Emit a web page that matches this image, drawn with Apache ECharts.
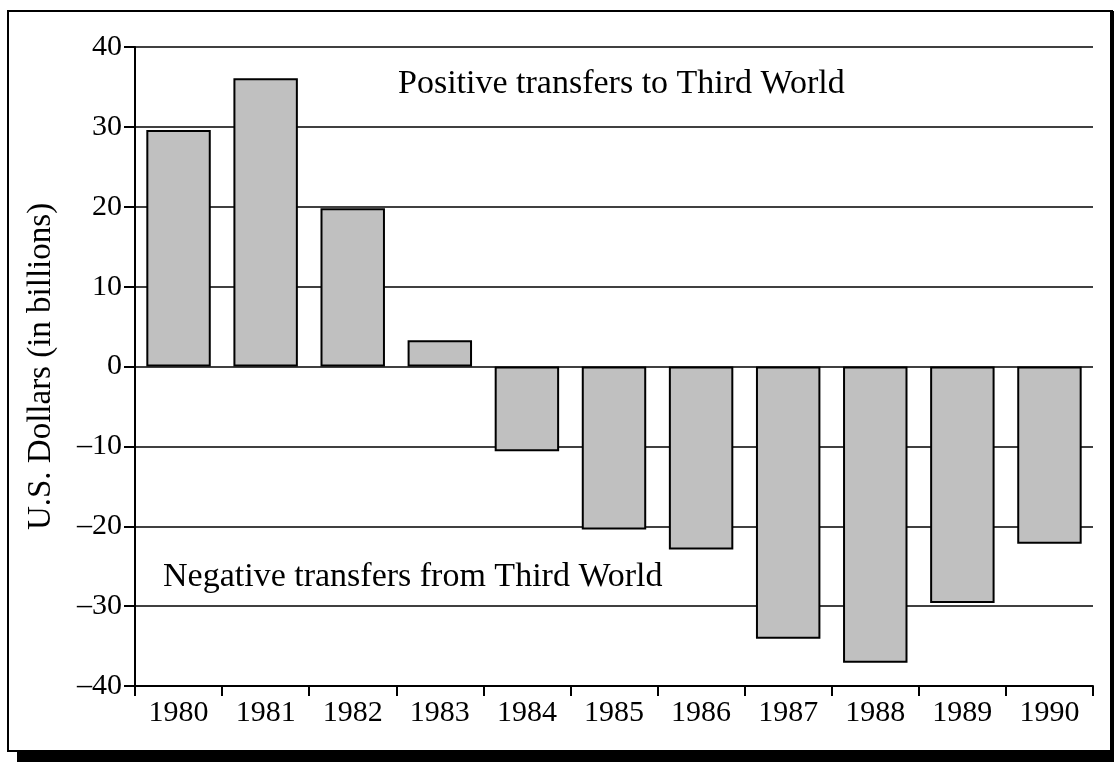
<!DOCTYPE html>
<html>
<head>
<meta charset="utf-8">
<script src="https://cdn.jsdelivr.net/npm/echarts@6/dist/echarts.min.js"></script>
<style>
html, body { margin: 0; padding: 0; background: #fff; }
#container { width: 1118px; height: 769px; }
</style>
</head>
<body>
<div id="container"></div>
<script>
var years = ['1980', '1981', '1982', '1983', '1984', '1985', '1986', '1987', '1988', '1989', '1990'];
var transfers = [29.6, 36.1, 19.8, 3.3, -10.6, -20.4, -22.9, -34.1, -37.1, -29.6, -22.2];
var yMin = -40, yMax = 40, yStep = 10;
var notes = ['Positive transfers to Third World', 'Negative transfers from Third World'];

var serif = '"Liberation Serif", "DejaVu Serif", serif';

var dom = document.getElementById('container');
var myChart = echarts.init(dom);
var option = {
    animation: false,
    backgroundColor: '#fff',
    grid: { left: 135, right: 25, top: 47, bottom: 83 },
    xAxis: {
        type: 'category',
        data: years,
        position: 'bottom',
        axisLine: { onZero: false, lineStyle: { color: '#000', width: 2 } },
        axisTick: { show: true, length: 10, lineStyle: { color: '#000', width: 2 } },
        axisLabel: { color: '#000', fontFamily: serif, fontSize: 30, margin: 12 },
        splitLine: { show: false }
    },
    yAxis: {
        type: 'value',
        min: yMin,
        max: yMax,
        interval: yStep,
        name: 'U.S. Dollars (in billions)',
        nameLocation: 'middle',
        nameGap: 77,
        nameTextStyle: { color: '#000', fontFamily: serif, fontSize: 33 },
        axisLine: { show: true, lineStyle: { color: '#000', width: 2 } },
        axisTick: { show: true, length: 11, lineStyle: { color: '#000', width: 2 } },
        axisLabel: {
            color: '#000', fontFamily: serif, fontSize: 30, margin: 13,
            // the printed chart uses a long dash for minus
            formatter: function (v) { return String(v).replace('-', '\u2013'); }
        },
        splitLine: { show: true, lineStyle: { color: '#000', width: 1.5 } }
    },
    graphic: [
        // page frame with drop shadow
        { type: 'rect', shape: { x: 8, y: 11, width: 1104, height: 740 },
          style: { fill: 'none', stroke: '#000', lineWidth: 2 } },
        { type: 'rect', shape: { x: 1110, y: 11, width: 4, height: 750 }, style: { fill: '#000' } },
        { type: 'rect', shape: { x: 17, y: 752, width: 1097, height: 10 }, style: { fill: '#000' } },
        { type: 'text', x: 398, y: 84,
          style: { text: notes[0], fill: '#000', font: '34px ' + serif, textVerticalAlign: 'middle' } },
        { type: 'text', x: 163, y: 577,
          style: { text: notes[1], fill: '#000', font: '34px ' + serif, textVerticalAlign: 'middle' } }
    ],
    series: [
        {
            name: 'Net transfers',
            type: 'bar',
            data: transfers,
            barWidth: '74%',
            itemStyle: { color: '#c0c0c0', borderColor: '#000', borderWidth: 2 }
        }
    ]
};
if (option && typeof option === 'object') {
    myChart.setOption(option, true);
}
</script>
</body>
</html>
